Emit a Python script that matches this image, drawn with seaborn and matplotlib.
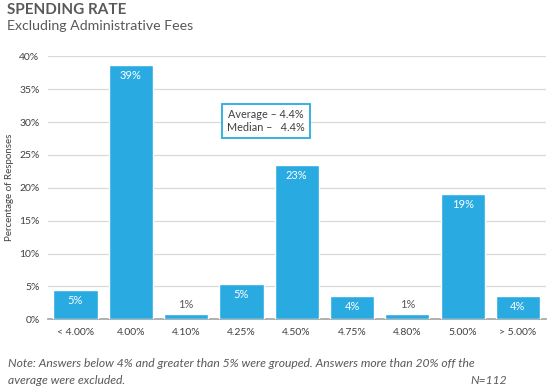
import numpy as np
import pandas as pd
import matplotlib
matplotlib.use('Agg')
import matplotlib.pyplot as plt
import seaborn as sns

rates = ['< 4.00%', '4.00%', '4.10%', '4.25%', '4.50%', '4.75%', '4.80%', '5.00%', '> 5.00%']
pct = [4.4, 38.6, 0.8, 5.3, 23.4, 3.5, 0.8, 19.0, 3.5]
labels = ['5%', '39%', '1%', '5%', '23%', '4%', '1%', '19%', '4%']
yticks = [0, 5, 10, 15, 20, 25, 30, 35, 40]

blue = '#29ABE2'
grey = '#595959'

sns.set_theme(style='white')
plt.rcParams['font.family'] = ['Lato', 'DejaVu Sans']

df = pd.DataFrame({'rate': rates, 'pct': pct})

fig = plt.figure(figsize=(5.5, 3.88), dpi=100)
ax = fig.add_axes([0.087, 0.177, 0.905, 0.678])

sns.barplot(data=df, x='rate', y='pct', color=blue, saturation=1, width=0.8, ax=ax, zorder=3)

ax.set_ylim(0, 40)
ax.set_yticks(yticks)
ax.set_yticklabels([f'{t}%' for t in yticks], fontsize=7.5, color='#404040')
ax.tick_params(axis='x', labelsize=7.5, labelcolor='#404040', length=0, pad=6)
ax.tick_params(axis='y', length=0, pad=6)
ax.grid(axis='y', color='#D9D9D9', linewidth=0.9, zorder=0)
ax.set_xlim(-0.5, 8.5)
for s in ['top', 'right', 'left']:
    ax.spines[s].set_visible(False)
ax.spines['bottom'].set_color('#A6A6A6')
ax.set_xlabel('')
ax.set_ylabel('Percentage of Responses', fontsize=7, color='#404040', labelpad=4)

for i, (v, lab) in enumerate(zip(pct, labels)):
    if v > 2:
        ax.text(i, v - 1.5, lab, ha='center', va='center', color='white', fontsize=8)
    else:
        ax.text(i, v + 1.5, lab, ha='center', va='center', color='#595959', fontsize=8)

ax.text(3.44, 30.2, 'Average \u2013 4.4%\nMedian \u2013   4.4%', ha='center', va='center',
        fontsize=7.8, color='#404040', linespacing=1.25, zorder=5,
        bbox=dict(boxstyle='square,pad=0.45', fc='white', ec=blue, lw=1.3))

fig.text(0.013, 0.975, 'SPENDING RATE', fontsize=11, fontweight='bold', color=grey, va='center')
fig.text(0.013, 0.934, 'Excluding Administrative Fees', fontsize=10.2, color=grey, va='center')

fig.text(0.015, 0.064, 'Note: Answers below 4% and greater than 5% were grouped. Answers more than 20% off the',
         fontsize=8.7, style='italic', color=grey, va='center')
fig.text(0.015, 0.02, 'average were excluded.', fontsize=8.7, style='italic', color=grey, va='center')
fig.text(0.922, 0.02, 'N=112', fontsize=8.7, style='italic', color=grey, va='center', ha='right')

fig.savefig('out.png', dpi=100)
